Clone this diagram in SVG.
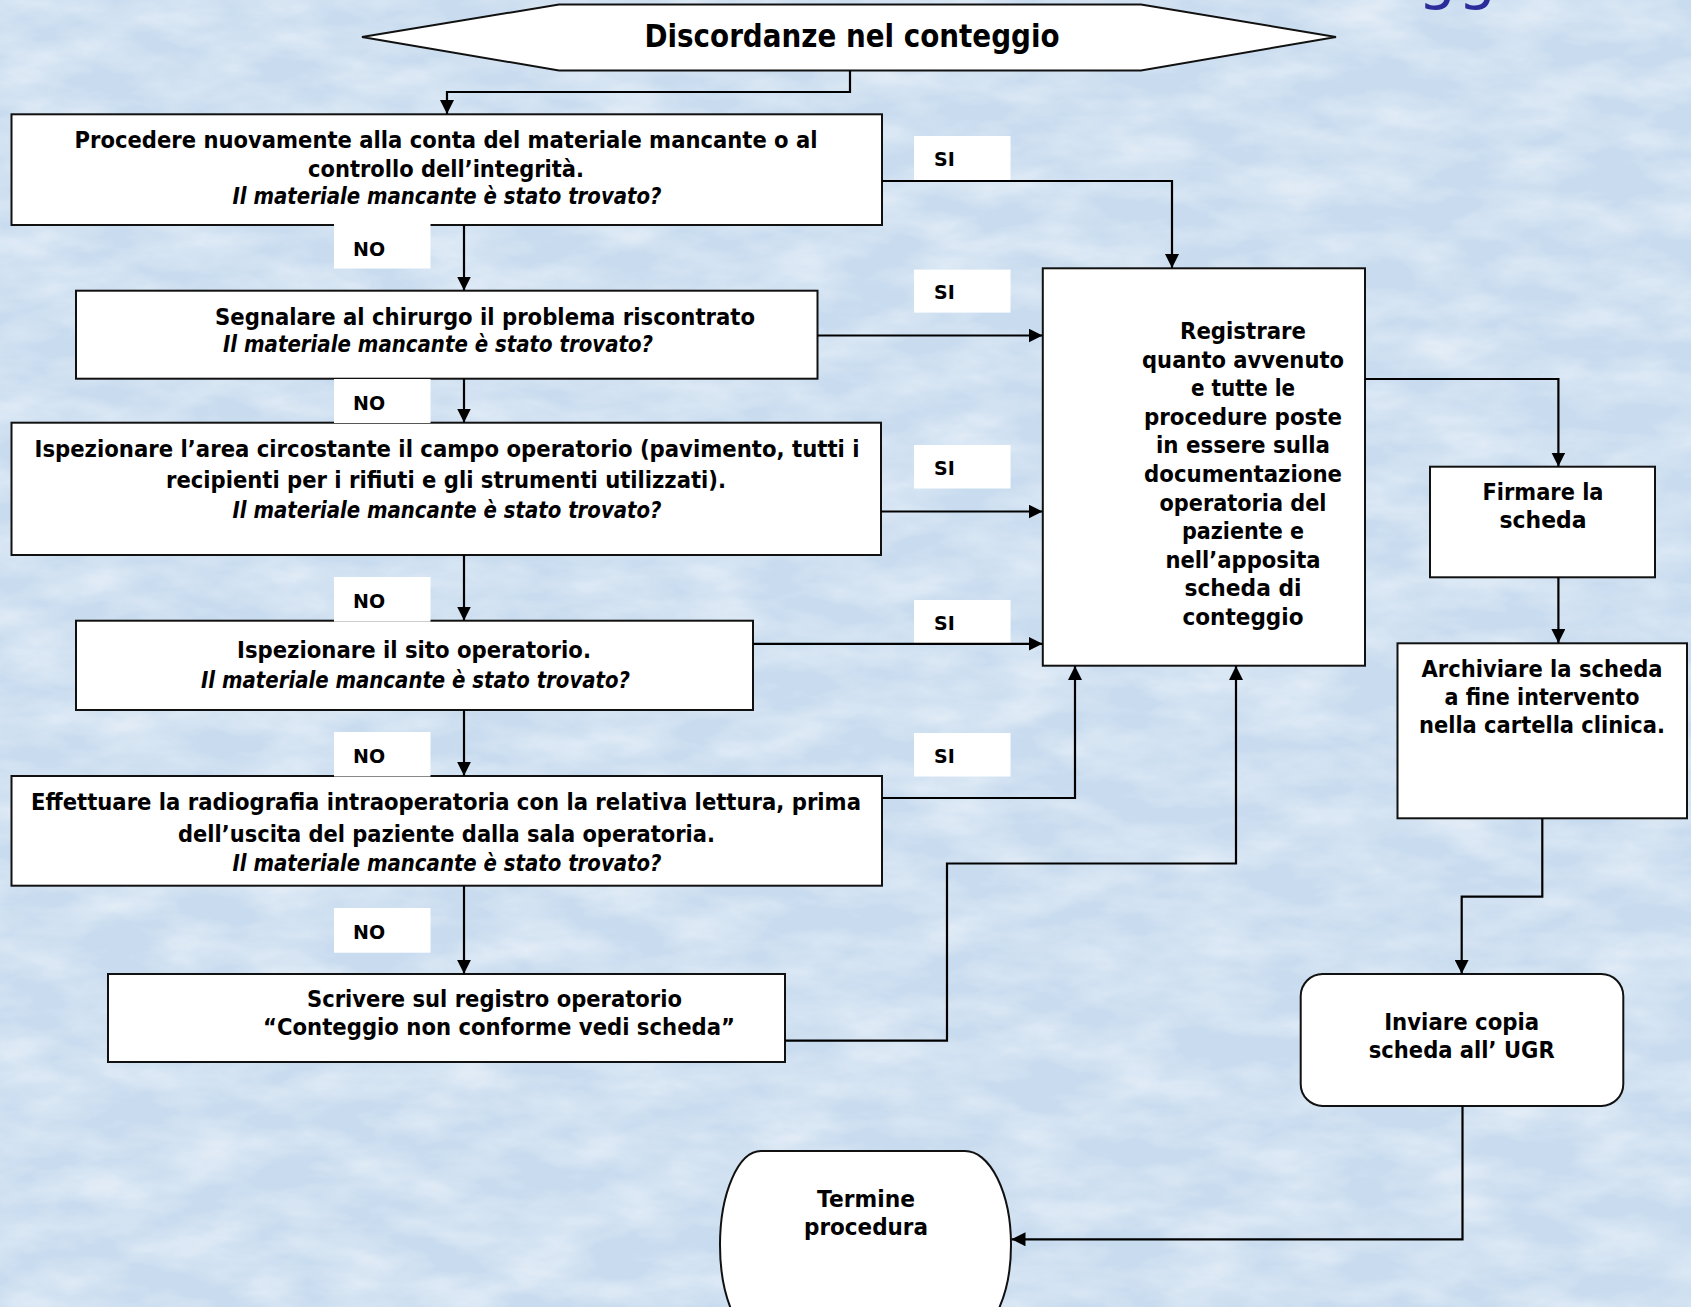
<svg xmlns="http://www.w3.org/2000/svg" width="1691" height="1307" viewBox="0 0 1691 1307">
<defs>
<filter id="tex" x="0" y="0" width="100%" height="100%">
<feTurbulence type="fractalNoise" baseFrequency="0.012 0.03" numOctaves="4" seed="7"/>
<feColorMatrix type="matrix" values="0 0 0 0 1  0 0 0 0 1  0 0 0 0 1  1.6 0 0 0 -0.55"/>
</filter>
<marker id="arr" markerUnits="userSpaceOnUse" markerWidth="15" markerHeight="14" refX="14" refY="7" orient="auto">
<path d="M0,0 L14,7 L0,14 Z" fill="#000"/>
</marker>
<style>
.box{fill:#fff;stroke:#111;stroke-width:2}
.lab{fill:#fff}
.c{fill:none;stroke:#000;stroke-width:2.2;marker-end:url(#arr)}
.t{font-family:"DejaVu Sans",Verdana,sans-serif;font-weight:bold;font-size:23px;fill:#000;text-anchor:middle}
.title{font-size:32px}
.i{font-style:italic}
.l{font-family:"DejaVu Sans",Verdana,sans-serif;font-weight:bold;font-size:19px;fill:#000}
</style>
</defs>
<rect width="1691" height="1307" fill="#c9dcef"/>
<rect width="1691" height="1307" fill="#fff" filter="url(#tex)" opacity="0.55"/>
<text x="1418" y="-3" font-family="DejaVu Sans, sans-serif" font-size="60" fill="#2b2b9a" letter-spacing="2">gg</text>

<g id="start">
<polygon class="box" points="362,37 559,4.5 1141,4.5 1336,37 1141,70.5 559,70.5"/>
<text class="t title" x="852" y="46.7" textLength="415" lengthAdjust="spacingAndGlyphs">Discordanze nel conteggio</text>
</g>

<g id="n1">
<rect class="box" x="11.5" y="114.3" width="870.5" height="110.7"/>
<text class="t" x="446" y="148" textLength="743" lengthAdjust="spacingAndGlyphs">Procedere nuovamente alla conta del materiale mancante o al</text>
<text class="t" x="446" y="176.5" textLength="276" lengthAdjust="spacingAndGlyphs">controllo dell’integrità.</text>
<text class="t i" x="447" y="204" textLength="429" lengthAdjust="spacingAndGlyphs">Il materiale mancante è stato trovato?</text>
</g>

<g id="n2">
<rect class="box" x="76" y="290.7" width="741.5" height="88"/>
<text class="t" x="485" y="324.5" textLength="540" lengthAdjust="spacingAndGlyphs">Segnalare al chirurgo il problema riscontrato</text>
<text class="t i" x="438" y="351.7" textLength="430" lengthAdjust="spacingAndGlyphs">Il materiale mancante è stato trovato?</text>
</g>

<g id="n3">
<rect class="box" x="11.5" y="422.7" width="869.5" height="132.3"/>
<text class="t" x="447" y="456.7" textLength="825" lengthAdjust="spacingAndGlyphs">Ispezionare l’area circostante il campo operatorio (pavimento, tutti i</text>
<text class="t" x="446" y="488.3" textLength="560" lengthAdjust="spacingAndGlyphs">recipienti per i rifiuti e gli strumenti utilizzati).</text>
<text class="t i" x="447" y="518.3" textLength="429" lengthAdjust="spacingAndGlyphs">Il materiale mancante è stato trovato?</text>
</g>

<g id="n4">
<rect class="box" x="76" y="620.7" width="677" height="89.3"/>
<text class="t" x="414" y="658.3" textLength="354" lengthAdjust="spacingAndGlyphs">Ispezionare il sito operatorio.</text>
<text class="t i" x="415.5" y="688.3" textLength="429" lengthAdjust="spacingAndGlyphs">Il materiale mancante è stato trovato?</text>
</g>

<g id="n5">
<rect class="box" x="11.5" y="776" width="870.5" height="109.7"/>
<text class="t" x="446" y="810" textLength="830" lengthAdjust="spacingAndGlyphs">Effettuare la radiografia intraoperatoria con la relativa lettura, prima</text>
<text class="t" x="446.5" y="841.7" textLength="537" lengthAdjust="spacingAndGlyphs">dell’uscita del paziente dalla sala operatoria.</text>
<text class="t i" x="447" y="871" textLength="429" lengthAdjust="spacingAndGlyphs">Il materiale mancante è stato trovato?</text>
</g>

<g id="n6">
<rect class="box" x="108" y="974" width="677" height="88"/>
<text class="t" x="494.5" y="1007.3" textLength="375" lengthAdjust="spacingAndGlyphs">Scrivere sul registro operatorio</text>
<text class="t" x="499" y="1035" textLength="472" lengthAdjust="spacingAndGlyphs">“Conteggio non conforme vedi scheda”</text>
</g>

<g id="registrare">
<rect class="box" x="1042.8" y="268.3" width="322.2" height="397.4"/>
<text class="t" x="1243" y="339" textLength="126" lengthAdjust="spacingAndGlyphs">Registrare</text>
<text class="t" x="1243" y="367.6" textLength="202" lengthAdjust="spacingAndGlyphs">quanto avvenuto</text>
<text class="t" x="1243" y="396.2" textLength="104" lengthAdjust="spacingAndGlyphs">e tutte le</text>
<text class="t" x="1243" y="424.8" textLength="198" lengthAdjust="spacingAndGlyphs">procedure poste</text>
<text class="t" x="1243" y="453.4" textLength="174" lengthAdjust="spacingAndGlyphs">in essere sulla</text>
<text class="t" x="1243" y="482" textLength="198" lengthAdjust="spacingAndGlyphs">documentazione</text>
<text class="t" x="1243" y="510.6" textLength="167" lengthAdjust="spacingAndGlyphs">operatoria del</text>
<text class="t" x="1243" y="539.2" textLength="122" lengthAdjust="spacingAndGlyphs">paziente e</text>
<text class="t" x="1243" y="567.8" textLength="155" lengthAdjust="spacingAndGlyphs">nell’apposita</text>
<text class="t" x="1243" y="596.4" textLength="117" lengthAdjust="spacingAndGlyphs">scheda di</text>
<text class="t" x="1243" y="625" textLength="121" lengthAdjust="spacingAndGlyphs">conteggio</text>
</g>

<g id="firmare">
<rect class="box" x="1430" y="466.7" width="225" height="110.6"/>
<text class="t" x="1543" y="500" textLength="121" lengthAdjust="spacingAndGlyphs">Firmare la</text>
<text class="t" x="1543" y="528.3" textLength="87" lengthAdjust="spacingAndGlyphs">scheda</text>
</g>

<g id="archiviare">
<rect class="box" x="1397.5" y="643.3" width="289.5" height="175"/>
<text class="t" x="1542" y="676.7" textLength="241" lengthAdjust="spacingAndGlyphs">Archiviare la scheda</text>
<text class="t" x="1542" y="705" textLength="195" lengthAdjust="spacingAndGlyphs">a fine intervento</text>
<text class="t" x="1542" y="733.3" textLength="246" lengthAdjust="spacingAndGlyphs">nella cartella clinica.</text>
</g>

<g id="inviare">
<rect class="box" x="1300.7" y="974" width="322.6" height="132" rx="22" ry="22"/>
<text class="t" x="1461.7" y="1030" textLength="155" lengthAdjust="spacingAndGlyphs">Inviare copia</text>
<text class="t" x="1461.7" y="1058.3" textLength="186" lengthAdjust="spacingAndGlyphs">scheda all’ UGR</text>
</g>

<g id="termine">
<path class="box" d="M761,1151 H965 A46,94 0 0 1 965,1339 H761 A41,94 0 0 1 761,1151 Z"/>
<text class="t" x="866" y="1206.7" textLength="98" lengthAdjust="spacingAndGlyphs">Termine</text>
<text class="t" x="866" y="1235" textLength="124" lengthAdjust="spacingAndGlyphs">procedura</text>
</g>

<g id="labels">
<rect class="lab" x="914" y="136" width="96.5" height="44"/><text class="l" x="934" y="166">SI</text>
<rect class="lab" x="914" y="269.6" width="96.5" height="43"/><text class="l" x="934" y="299">SI</text>
<rect class="lab" x="914" y="445" width="96.5" height="43.5"/><text class="l" x="934" y="475">SI</text>
<rect class="lab" x="914" y="600" width="96.5" height="43.5"/><text class="l" x="934" y="630">SI</text>
<rect class="lab" x="914" y="733" width="96.5" height="43.5"/><text class="l" x="934" y="763">SI</text>
<rect class="lab" x="334" y="224" width="96.5" height="44.5"/><text class="l" x="353" y="255.6">NO</text>
<rect class="lab" x="334" y="379" width="96.5" height="44"/><text class="l" x="353" y="410">NO</text>
<rect class="lab" x="334" y="577" width="96.5" height="44.7"/><text class="l" x="353" y="608">NO</text>
<rect class="lab" x="334" y="732" width="96.5" height="44.5"/><text class="l" x="353" y="763">NO</text>
<rect class="lab" x="334" y="908" width="96.5" height="44.7"/><text class="l" x="353" y="939">NO</text>
</g>

<g id="connectors">
<path class="c" d="M850,70.5 V92 H447 V114"/>
<path class="c" d="M464,225 V290.5"/>
<path class="c" d="M464,378.7 V422.5"/>
<path class="c" d="M464,555 V620.5"/>
<path class="c" d="M464,710 V775.8"/>
<path class="c" d="M464,885.7 V973.8"/>
<path class="c" d="M882,181 H1172 V268"/>
<path class="c" d="M817.5,335.5 H1042.5"/>
<path class="c" d="M881,511.5 H1042.5"/>
<path class="c" d="M753,643.8 H1042.5"/>
<path class="c" d="M882,798 H1075 V666"/>
<path class="c" d="M785,1040.7 H947 V863.5 H1236 V666"/>
<path class="c" d="M1365,379 H1558.4 V466.5"/>
<path class="c" d="M1558.4,577.3 V643"/>
<path class="c" d="M1542.3,818.3 V896.7 H1461.7 V973.8"/>
<path class="c" d="M1462.5,1106 V1239.3 H1011.5"/>
</g>
</svg>
